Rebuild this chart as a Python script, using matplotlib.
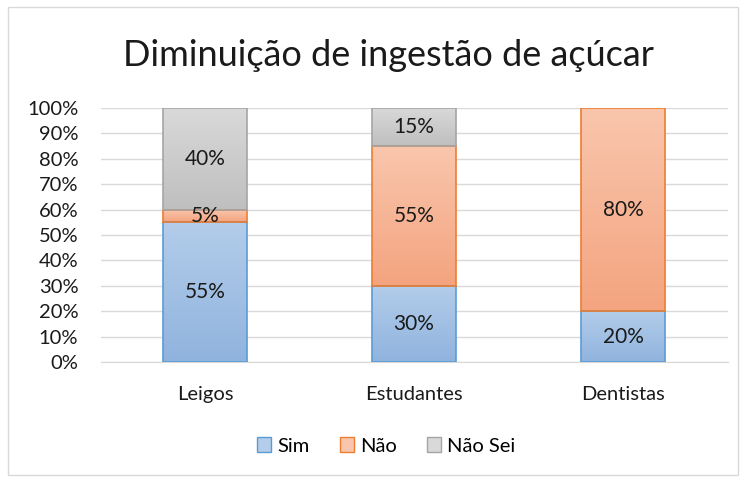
import numpy as np
import matplotlib.pyplot as plt
from matplotlib.patches import Rectangle
from matplotlib.colors import LinearSegmentedColormap

plt.rcParams['font.family'] = ['Lato', 'DejaVu Sans']

categorias = ["Leigos", "Estudantes", "Dentistas"]
sim = [55, 30, 20]
nao = [5, 55, 80]
nao_sei = [40, 15, 0]
series = ["Sim", "Não", "Não Sei"]

# (topo, base, borda)
cores = {
    "Sim": ("#b3cdea", "#90b3de", "#5b9bd5"),
    "Não": ("#f9c6ad", "#f4a47f", "#ed7d31"),
    "Não Sei": ("#d9d9d9", "#bfbfbf", "#a5a5a5"),
}

fig = plt.figure(figsize=(7.47, 4.8), dpi=100)
ax = fig.add_axes([100.5 / 747, 1 - 362 / 480, 627 / 747, 254 / 480])

largura = 0.4
x = np.arange(len(categorias))
base = np.zeros(len(categorias))
for nome, vals in zip(series, [sim, nao, nao_sei]):
    topo_c, base_c, borda = cores[nome]
    cmap = LinearSegmentedColormap.from_list(nome, [base_c, topo_c])
    grad = np.linspace(0, 1, 100).reshape(-1, 1)
    for i, v in enumerate(vals):
        if v <= 0:
            continue
        x0 = x[i] - largura / 2
        im = ax.imshow(grad, cmap=cmap, origin="lower", aspect="auto",
                       extent=(x0, x0 + largura, base[i], base[i] + v), zorder=2)
        r = Rectangle((x0, base[i]), largura, v, facecolor="none",
                      edgecolor=borda, linewidth=1.2, zorder=3)
        ax.add_patch(r)
        im.set_clip_path(r)
        ax.text(x[i], base[i] + v / 2, f"{v}%", ha="center", va="center",
                fontsize=15, color="#1a1a1a", zorder=4)
    base += np.array(vals)

ax.set_xlim(-0.5, 2.5)
ax.set_ylim(0, 100)
ax.set_yticks(range(0, 101, 10))
ax.set_yticklabels([f"{t}%" for t in range(0, 101, 10)], fontsize=14.5, color="#1a1a1a")
ax.set_xticks(x)
ax.set_xticklabels(categorias, fontsize=14.5, color="#1a1a1a")
ax.tick_params(axis="y", length=0, pad=16)
ax.tick_params(axis="x", length=0, pad=17)
ax.grid(axis="y", color="#d9d9d9", linewidth=1, zorder=0)
ax.set_axisbelow(True)
for s in ["top", "right", "left"]:
    ax.spines[s].set_visible(False)
ax.spines["bottom"].set_color("#d9d9d9")

fig.text(388 / 747, 1 - 56 / 480, "Diminuição de ingestão de açúcar", ha="center",
         va="center", fontsize=26, color="#1a1a1a")

handles = [Rectangle((0, 0), 1, 1, facecolor=cores[n][0], edgecolor=cores[n][2]) for n in series]
fig.legend(handles, series, loc="center", bbox_to_anchor=(386 / 747, 1 - 446 / 480),
           ncol=3, frameon=False, fontsize=14.5, handlelength=0.7, handleheight=0.7,
           columnspacing=1.5, handletextpad=0.3)

fig.patches.append(Rectangle((8 / 747, 0.01), 730 / 747, 0.975, transform=fig.transFigure,
                             fill=False, edgecolor="#d9d9d9", linewidth=1))

fig.savefig("out.png", dpi=100)
